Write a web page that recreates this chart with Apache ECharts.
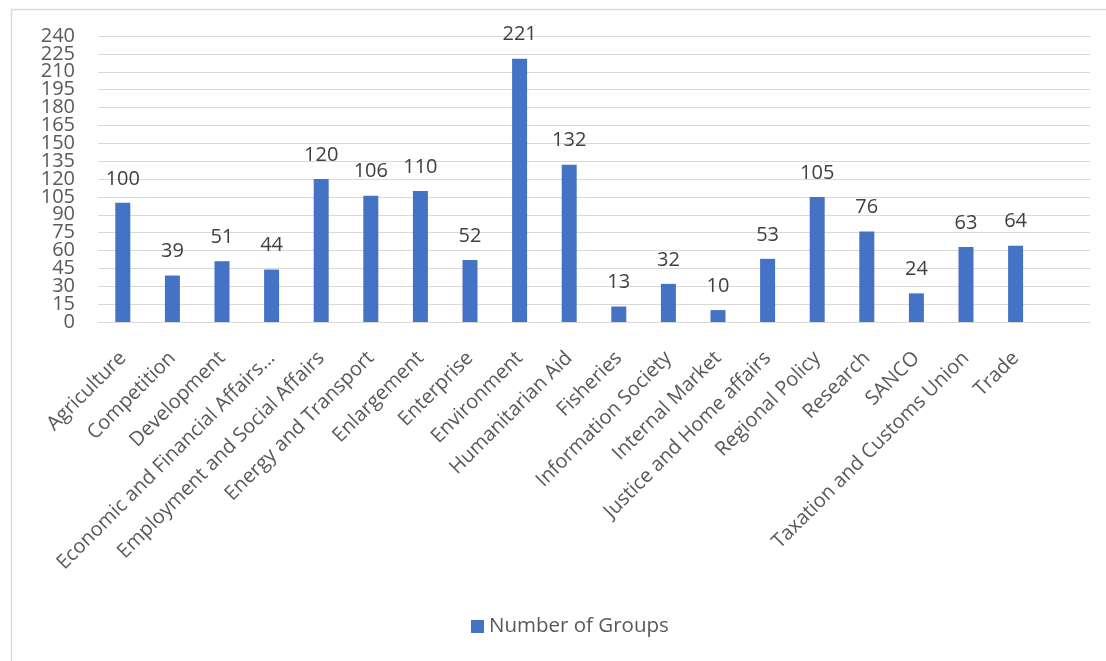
<!DOCTYPE html>
<html>
<head>
<meta charset="utf-8">
<title>Number of Groups</title>
<script src="https://cdn.jsdelivr.net/npm/echarts@6/dist/echarts.min.js"></script>
<style>
  html, body { margin: 0; padding: 0; background: #ffffff; }
  #chart { width: 1106px; height: 661px; }
</style>
</head>
<body>
<div id="chart"></div>
<script>
// Policy areas and how many groups each one has
const categories = [
  'Agriculture', 'Competition', 'Development', 'Economic and Financial Affairs\u2026',
  'Employment and Social Affairs', 'Energy and Transport', 'Enlargement', 'Enterprise',
  'Environment', 'Humanitarian Aid', 'Fisheries', 'Information Society',
  'Internal Market', 'Justice and Home affairs', 'Regional Policy', 'Research',
  'SANCO', 'Taxation and Customs Union', 'Trade'
];
const groupCounts = [100, 39, 51, 44, 120, 106, 110, 52, 221, 132, 13, 32, 10, 53, 105, 76, 24, 63, 64];
const seriesName = 'Number of Groups';

// Value axis scale
const yMin = 0;
const yMax = 240;
const yStep = 15;

const FONT = '"Open Sans", "Liberation Sans", sans-serif';
const BAR = '#4472C4';
const GRID_LINE = '#d9d9d9';

const chart = echarts.init(document.getElementById('chart'), null, { renderer: 'canvas' });

// one spare slot at the end keeps the right-hand margin of the plot area
const axisCategories = categories.concat(['']);
const axisValues = groupCounts.concat([null]);

// tick labels sit very close together, so they are split over two
// overlaid value axes (even and odd steps) to keep every one visible
const isEvenStep = v => Math.round((v - yMin) / yStep) % 2 === 0;
const yLabelStyle = {
  margin: 23,
  fontFamily: FONT,
  fontSize: 20,
  color: '#595959'
};

chart.setOption({
  animation: false,
  backgroundColor: '#ffffff',
  textStyle: { fontFamily: FONT },
  graphic: [{
    type: 'rect',
    left: 9, top: 7,
    shape: { width: 1200, height: 800 },
    style: { fill: 'none', stroke: GRID_LINE, lineWidth: 1.5 },
    silent: true,
    z: -10
  }],
  grid: { left: 98, right: 16, top: 36, bottom: 339, containLabel: false },
  legend: {
    show: true,
    bottom: 19,
    left: 466,
    itemWidth: 13,
    itemHeight: 13,
    itemGap: 8,
    icon: 'rect',
    textStyle: { fontFamily: FONT, fontSize: 20.5, color: '#595959' },
    data: [seriesName]
  },
  xAxis: {
    type: 'category',
    data: axisCategories,
    axisLine: { show: true, lineStyle: { color: GRID_LINE, width: 1 } },
    axisTick: { show: false },
    axisLabel: {
      interval: 0,
      rotate: 45,
      margin: 33,
      fontFamily: FONT,
      fontSize: 20,
      color: '#595959'
    }
  },
  yAxis: [{
    type: 'value',
    position: 'left',
    min: yMin,
    max: yMax,
    interval: yStep,
    axisLine: { show: false },
    axisTick: { show: false },
    splitLine: { lineStyle: { color: GRID_LINE, width: 1 } },
    axisLabel: Object.assign({
      showMinLabel: true,
      showMaxLabel: true,
      formatter: v => (isEvenStep(v) ? String(v) : '')
    }, yLabelStyle)
  }, {
    type: 'value',
    position: 'left',
    offset: 0,
    min: yMin,
    max: yMax,
    interval: yStep,
    axisLine: { show: false },
    axisTick: { show: false },
    splitLine: { show: false },
    axisLabel: Object.assign({
      showMinLabel: false,
      showMaxLabel: false,
      formatter: v => (isEvenStep(v) ? '' : String(v))
    }, yLabelStyle)
  }],
  series: [{
    name: seriesName,
    type: 'bar',
    yAxisIndex: 0,
    data: axisValues,
    barWidth: 15,
    itemStyle: { color: BAR },
    label: {
      show: true,
      position: 'top',
      distance: 14,
      fontFamily: FONT,
      fontSize: 20,
      color: '#404040'
    }
  }]
});
</script>
</body>
</html>
